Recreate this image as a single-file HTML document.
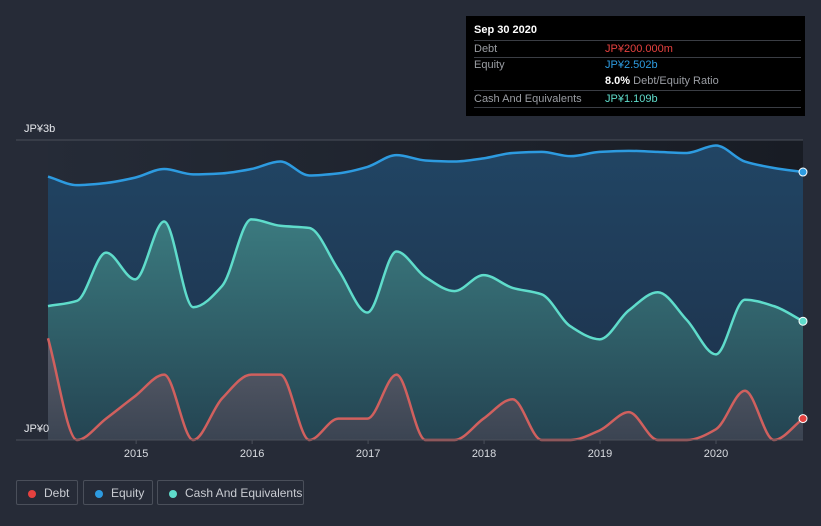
<!DOCTYPE html>
<html><head><meta charset="utf-8">
<style>
html,body{margin:0;padding:0;background:#262b37;width:821px;height:526px;overflow:hidden;font-family:"Liberation Sans",sans-serif;}
#tip{position:absolute;left:466px;top:16px;width:339px;height:100px;background:#000;font-size:11px;color:#9a9da3;}
#tip .r{position:absolute;left:8px;right:4px;border-bottom:1px solid #3a3d44;height:16px;line-height:16px;}
#tip .v{position:absolute;left:131px;}
.leg{position:absolute;top:480px;height:25px;border:1px solid #4a4f5a;border-radius:2px;color:#c9ccd2;font-size:12px;line-height:25px;box-sizing:border-box;}
.leg i{position:absolute;top:9px;left:11px;width:8px;height:8px;border-radius:50%;}
.leg span{position:absolute;left:27px;}
</style></head><body>
<svg id="chart" width="821" height="526" style="position:absolute;left:0;top:0">
<defs>
<linearGradient id="bg" x1="0" y1="0" x2="1" y2="0"><stop offset="0" stop-color="#252b37"/><stop offset="1" stop-color="#181c24"/></linearGradient>
<linearGradient id="eqf" x1="0" y1="0" x2="0" y2="1"><stop offset="0" stop-color="#214564"/><stop offset="1" stop-color="#1d3049"/></linearGradient>
<linearGradient id="caf" x1="0" y1="0" x2="0" y2="1"><stop offset="0" stop-color="#3b7a7f"/><stop offset="1" stop-color="#244452"/></linearGradient>
<linearGradient id="def" x1="0" y1="0" x2="0" y2="1"><stop offset="0" stop-color="#5a5d6a"/><stop offset="1" stop-color="#3b4452"/></linearGradient>
</defs>
<rect x="48" y="140" width="755" height="300" fill="url(#bg)"/>
<g id="g"></g>
</svg>
<div id="tip">
<div style="position:absolute;left:8px;top:8px;color:#fff;font-weight:bold;font-size:11px">Sep 30 2020</div>
<div class="r" style="top:24px;border-top:1px solid #3a3d44;height:16px"><span>Debt</span><span class="v" style="color:#e5413f">JP¥200.000m</span></div>
<div class="r" style="top:41px;height:33px"><span>Equity</span><span class="v" style="color:#2d9be0">JP¥2.502b</span><span class="v" style="top:16px"><b style="color:#fff">8.0%</b> Debt/Equity Ratio</span></div>
<div class="r" style="top:75px"><span>Cash And Equivalents</span><span class="v" style="color:#5fdccb">JP¥1.109b</span></div>
</div>
<div class="leg" style="left:16px;width:62px"><i style="background:#e5413f"></i><span>Debt</span></div>
<div class="leg" style="left:83px;width:70px"><i style="background:#2d9be0"></i><span>Equity</span></div>
<div class="leg" style="left:157px;width:147px"><i style="background:#5fdccb"></i><span>Cash And Equivalents</span></div>
<script>
const startYear = 2014.24;
const endYear = 2020.75;
const yearTicks = [2015, 2016, 2017, 2018, 2019, 2020];
const equity = [2.46,2.38,2.40,2.45,2.53,2.48,2.49,2.53,2.60,2.47,2.49,2.55,2.66,2.61,2.60,2.63,2.68,2.69,2.65,2.69,2.70,2.69,2.68,2.75,2.60,2.54,2.502];
const cash = [1.25,1.30,1.75,1.50,2.04,1.24,1.44,2.06,2.00,1.98,1.59,1.19,1.76,1.52,1.39,1.54,1.42,1.36,1.06,0.94,1.21,1.38,1.12,0.80,1.31,1.25,1.109];
const debt = [0.95,0,0.2,0.41,0.61,0,0.39,0.61,0.61,0,0.2,0.2,0.61,0,0,0.2,0.38,0,0,0.09,0.26,0,0,0.1,0.46,0,0.2];
const X0=48,X1=803,Y0=440,PXB=107.1;
const n=equity.length;
function xs(i){return X0+(X1-X0)*i/(n-1);}
function xYear(y){return X0+(X1-X0)*(y-startYear)/(endYear-startYear);}
function ys(v){return Y0-v*PXB;}
const NS="http://www.w3.org/2000/svg";
const g=document.getElementById('g');
function mk(t,a){const e=document.createElementNS(NS,t);for(const k in a)e.setAttribute(k,a[k]);g.appendChild(e);return e;}
function path(vals){
 const p=vals.map((v,i)=>[xs(i),ys(v)]);const m=[];const d=[];
 for(let i=0;i<n-1;i++)d.push((p[i+1][1]-p[i][1])/(p[i+1][0]-p[i][0]));
 m[0]=d[0];m[n-1]=d[n-2];
 for(let i=1;i<n-1;i++){m[i]=(d[i-1]*d[i]<=0)?0:2/(1/d[i-1]+1/d[i]);}
 let s="M"+p[0][0]+","+p[0][1];
 for(let i=0;i<n-1;i++){const h=(p[i+1][0]-p[i][0])/3;
  s+=` C${p[i][0]+h},${p[i][1]+m[i]*h} ${p[i+1][0]-h},${p[i+1][1]-m[i+1]*h} ${p[i+1][0]},${p[i+1][1]}`;}
 return s;}
[1,2].forEach(v=>{const l=mk('line',{x1:X0,x2:X1,y1:ys(v),y2:ys(v),stroke:'#3a4556','stroke-width':1});

});
const topLine=mk('line',{x1:16,x2:X1,y1:140,y2:140,stroke:'#4a4f5a'});


const series=[[equity,'#2d9be0','url(#eqf)','equity'],[cash,'#5fdccb','url(#caf)','cash'],[debt,'#d0605e','url(#def)','debt']];
series.forEach(s=>{const d=path(s[0]);
 const a=mk('path',{d:d+` L${X1},${Y0} L${X0},${Y0} Z`,fill:s[2]});
 
 });
series.forEach(s=>{const l=mk('path',{d:path(s[0]),fill:'none',stroke:s[1],'stroke-width':2.5});
 
 
 const c=mk('circle',{cx:X1,cy:ys(s[0][n-1]),r:4,fill:s[3]==='debt'?'#e5413f':s[1],stroke:'#fff','stroke-width':1});
 
 });
const ax=mk('line',{x1:16,x2:X1,y1:Y0,y2:Y0,stroke:'#4a4f5a'});


yearTicks.forEach(y=>{const x=xYear(y);
 const t=mk('line',{x1:x,x2:x,y1:Y0,y2:Y0+4,stroke:'#4a4f5a'});
 
 
 const tx=mk('text',{x:x,y:457,fill:'#d8dbe0','font-size':11,'text-anchor':'middle'});tx.textContent=y;
 
 });
[['JP¥3b',132],['JP¥0',432]].forEach(a=>{const t=mk('text',{x:24,y:a[1],fill:'#e6e8ec','font-size':11});t.textContent=a[0];
 
 });
</script>
</body></html>
